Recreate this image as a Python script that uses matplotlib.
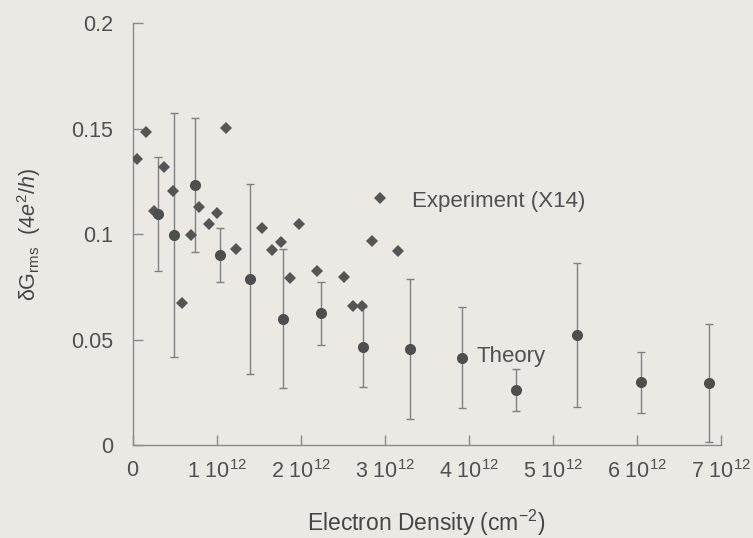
import matplotlib
matplotlib.use("Agg")
import matplotlib.pyplot as plt
import numpy as np

plt.rcParams["font.family"] = ["Liberation Sans", "DejaVu Sans"]
plt.rcParams["mathtext.fontset"] = "custom"
plt.rcParams["mathtext.rm"] = "Liberation Sans"
plt.rcParams["mathtext.it"] = "Liberation Sans:italic"

# theory points (density in units of 1e12 cm^-2)
theory_n = [0.307, 0.497, 0.742, 1.043, 1.395, 1.79, 2.247, 2.749, 3.308, 3.917, 4.57, 5.287, 6.055, 6.86]
theory_g = [0.1096, 0.0996, 0.1233, 0.0901, 0.0787, 0.0598, 0.0625, 0.0466, 0.0455, 0.0414, 0.0261, 0.0522, 0.0297, 0.0293]
theory_err = [0.027, 0.058, 0.032, 0.0127, 0.045, 0.033, 0.015, 0.019, 0.033, 0.024, 0.010, 0.034, 0.0145, 0.028]

# experiment points (X14)
exp_n = [0.05, 0.16, 0.255, 0.374, 0.485, 0.584, 0.691, 0.793, 0.908, 1.007, 1.118, 1.229,
         1.546, 1.66, 1.77, 1.879, 1.98, 2.195, 2.516, 2.622, 2.734, 2.848, 2.951, 3.165]
exp_g = [0.1355, 0.1486, 0.111, 0.132, 0.1205, 0.0675, 0.0996, 0.113, 0.1048, 0.1099, 0.1505, 0.093,
         0.1028, 0.0925, 0.0961, 0.079, 0.1047, 0.0827, 0.0796, 0.066, 0.0659, 0.0968, 0.1173, 0.092]

x_ticks = [0, 1, 2, 3, 4, 5, 6, 7]
x_tick_labels = ["0"] + [f"{k} 10$^{{12}}$" for k in range(1, 8)]
y_ticks = [0, 0.05, 0.1, 0.15, 0.2]
y_tick_labels = ["0", "0.05", "0.1", "0.15", "0.2"]

bg = "#ECE9E4"
axis_grey = "#8A8A8A"

fig = plt.figure(figsize=(7.53, 5.38), dpi=100, facecolor=bg)
ax = fig.add_axes([0.176, 0.1729, 0.781, 0.7838], facecolor=bg)

scale = 1e12
ax.errorbar(np.array(theory_n) * scale, theory_g, yerr=theory_err, fmt="none",
            ecolor="#808080", elinewidth=1.0, capsize=3, capthick=1.0, zorder=2)
ax.plot(np.array(exp_n) * scale, exp_g, linestyle="none", marker="D", markersize=6.3,
        color="#555555", markeredgewidth=0, zorder=3)
ax.plot(np.array(theory_n) * scale, theory_g, linestyle="none", marker="o", markersize=8,
        color="#4E4E4E", markeredgewidth=0, zorder=4)

ax.set_xlim(0, 7 * scale)
ax.set_ylim(0, 0.2)
ax.set_xticks(np.array(x_ticks) * scale)
ax.set_xticklabels(x_tick_labels)
ax.set_yticks(y_ticks)
ax.set_yticklabels(y_tick_labels)

for side in ["top", "right"]:
    ax.spines[side].set_visible(False)
for side in ["left", "bottom"]:
    ax.spines[side].set_color(axis_grey)
    ax.spines[side].set_linewidth(1.0)

ax.tick_params(direction="in", length=7, width=1, color=axis_grey,
               labelsize=15.5, labelcolor="#505050")
ax.tick_params(axis="x", pad=11)
ax.tick_params(axis="y", pad=14)

ax.set_xlabel("Electron Density (cm$^{-2}$)", fontsize=16.5, color="#454545", labelpad=18)
ax.set_ylabel("δG$_{\\rm rms}$  (4$e^2$/$h$)", fontsize=15.5, color="#454545", labelpad=20)

ax.text(3.33 * scale, 0.1154, "Experiment (X14)", fontsize=16, color="#505050", va="center")
ax.text(4.10 * scale, 0.0419, "Theory", fontsize=16, color="#505050", va="center")

fig.savefig("out.png", dpi=100, facecolor=bg)
